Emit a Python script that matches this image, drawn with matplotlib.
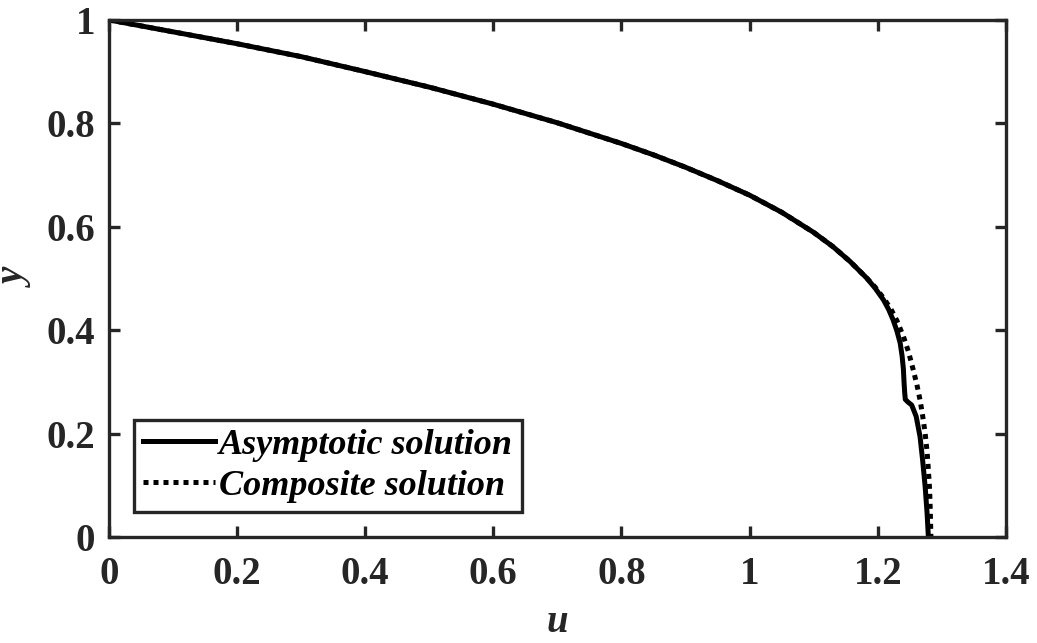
import matplotlib
matplotlib.use("Agg")
import matplotlib.pyplot as plt

# asymptotic solution (u, y), with the small kink near y = 0.26
asym_u = [0.0, 0.1, 0.2, 0.3, 0.4, 0.5, 0.6, 0.7, 0.8, 0.85, 0.9, 0.95, 1.0,
          1.05, 1.1, 1.13, 1.157, 1.183, 1.196, 1.209, 1.217, 1.224, 1.230,
          1.235, 1.238, 1.240, 1.241, 1.242, 1.243, 1.247, 1.253, 1.260,
          1.266, 1.270, 1.274, 1.277, 1.279]
asym_y = [1.0, 0.977, 0.954, 0.929, 0.900, 0.870, 0.837, 0.801, 0.761, 0.739,
          0.715, 0.689, 0.661, 0.628, 0.589, 0.5615, 0.5325, 0.5004, 0.481,
          0.4584, 0.440, 0.4197, 0.398, 0.375, 0.350, 0.325, 0.300, 0.280,
          0.266, 0.261, 0.255, 0.233, 0.194, 0.149, 0.097, 0.046, 0.0]

# composite solution (u, y)
comp_u = [0.0, 0.1, 0.2, 0.3, 0.4, 0.5, 0.6, 0.7, 0.8, 0.85, 0.9, 0.95, 1.0,
          1.05, 1.1, 1.13, 1.157, 1.183, 1.196, 1.209, 1.220, 1.230, 1.240,
          1.248, 1.255, 1.261, 1.266, 1.270, 1.274, 1.277, 1.279, 1.281,
          1.282, 1.283]
comp_y = [1.0, 0.977, 0.954, 0.929, 0.900, 0.870, 0.837, 0.801, 0.761, 0.739,
          0.715, 0.689, 0.661, 0.628, 0.589, 0.5615, 0.5325, 0.5004, 0.483,
          0.462, 0.442, 0.418, 0.388, 0.358, 0.325, 0.295, 0.265, 0.235,
          0.200, 0.165, 0.130, 0.090, 0.050, 0.0]

xticks = [0, 0.2, 0.4, 0.6, 0.8, 1.0, 1.2, 1.4]
xtick_labels = ["0", "0.2", "0.4", "0.6", "0.8", "1", "1.2", "1.4"]
yticks = [0, 0.2, 0.4, 0.6, 0.8, 1.0]
ytick_labels = ["0", "0.2", "0.4", "0.6", "0.8", "1"]

plt.rcParams["font.family"] = ["Liberation Serif", "DejaVu Serif"]
plt.rcParams["font.weight"] = "bold"

spine_c = "#262626"

fig = plt.figure(figsize=(10.37, 6.43), dpi=100)
ax = fig.add_axes([0.105, 0.165, 0.865, 0.804])

ax.plot(asym_u, asym_y, color="black", lw=3.6, solid_joinstyle="round",
        label="Asymptotic solution")
ax.plot(comp_u, comp_y, color="black", lw=3.6, linestyle=(0, (1, 1)),
        dash_capstyle="butt", label="Composite solution")

ax.set_xlim(0, 1.4)
ax.set_ylim(0, 1)
ax.set_xticks(xticks)
ax.set_xticklabels(xtick_labels)
ax.set_yticks(yticks)
ax.set_yticklabels(ytick_labels)

for s in ax.spines.values():
    s.set_linewidth(2.4)
    s.set_color(spine_c)
ax.tick_params(direction="in", length=8, width=2.4, color=spine_c,
               labelcolor=spine_c, labelsize=28, top=True, right=True)
ax.tick_params(axis="x", pad=14)
ax.tick_params(axis="y", pad=10)
for lab in ax.get_xticklabels() + ax.get_yticklabels():
    lab.set_fontweight("bold")

ax.set_xlabel("u", fontsize=28, fontweight="bold", style="italic",
              color=spine_c, labelpad=8)
ax.set_ylabel("y", fontsize=28, fontweight="bold", style="italic",
              color=spine_c, labelpad=8)

leg = ax.legend(loc="lower left", bbox_to_anchor=(0.02, 0.035), fancybox=False,
                framealpha=1, edgecolor=spine_c, handlelength=2.0,
                handletextpad=0.1, borderpad=0.25, labelspacing=0.2,
                borderaxespad=0.2,
                prop={"size": 26, "weight": "bold", "style": "italic"})
leg.get_frame().set_linewidth(2.4)

fig.savefig("out.png", dpi=100)
